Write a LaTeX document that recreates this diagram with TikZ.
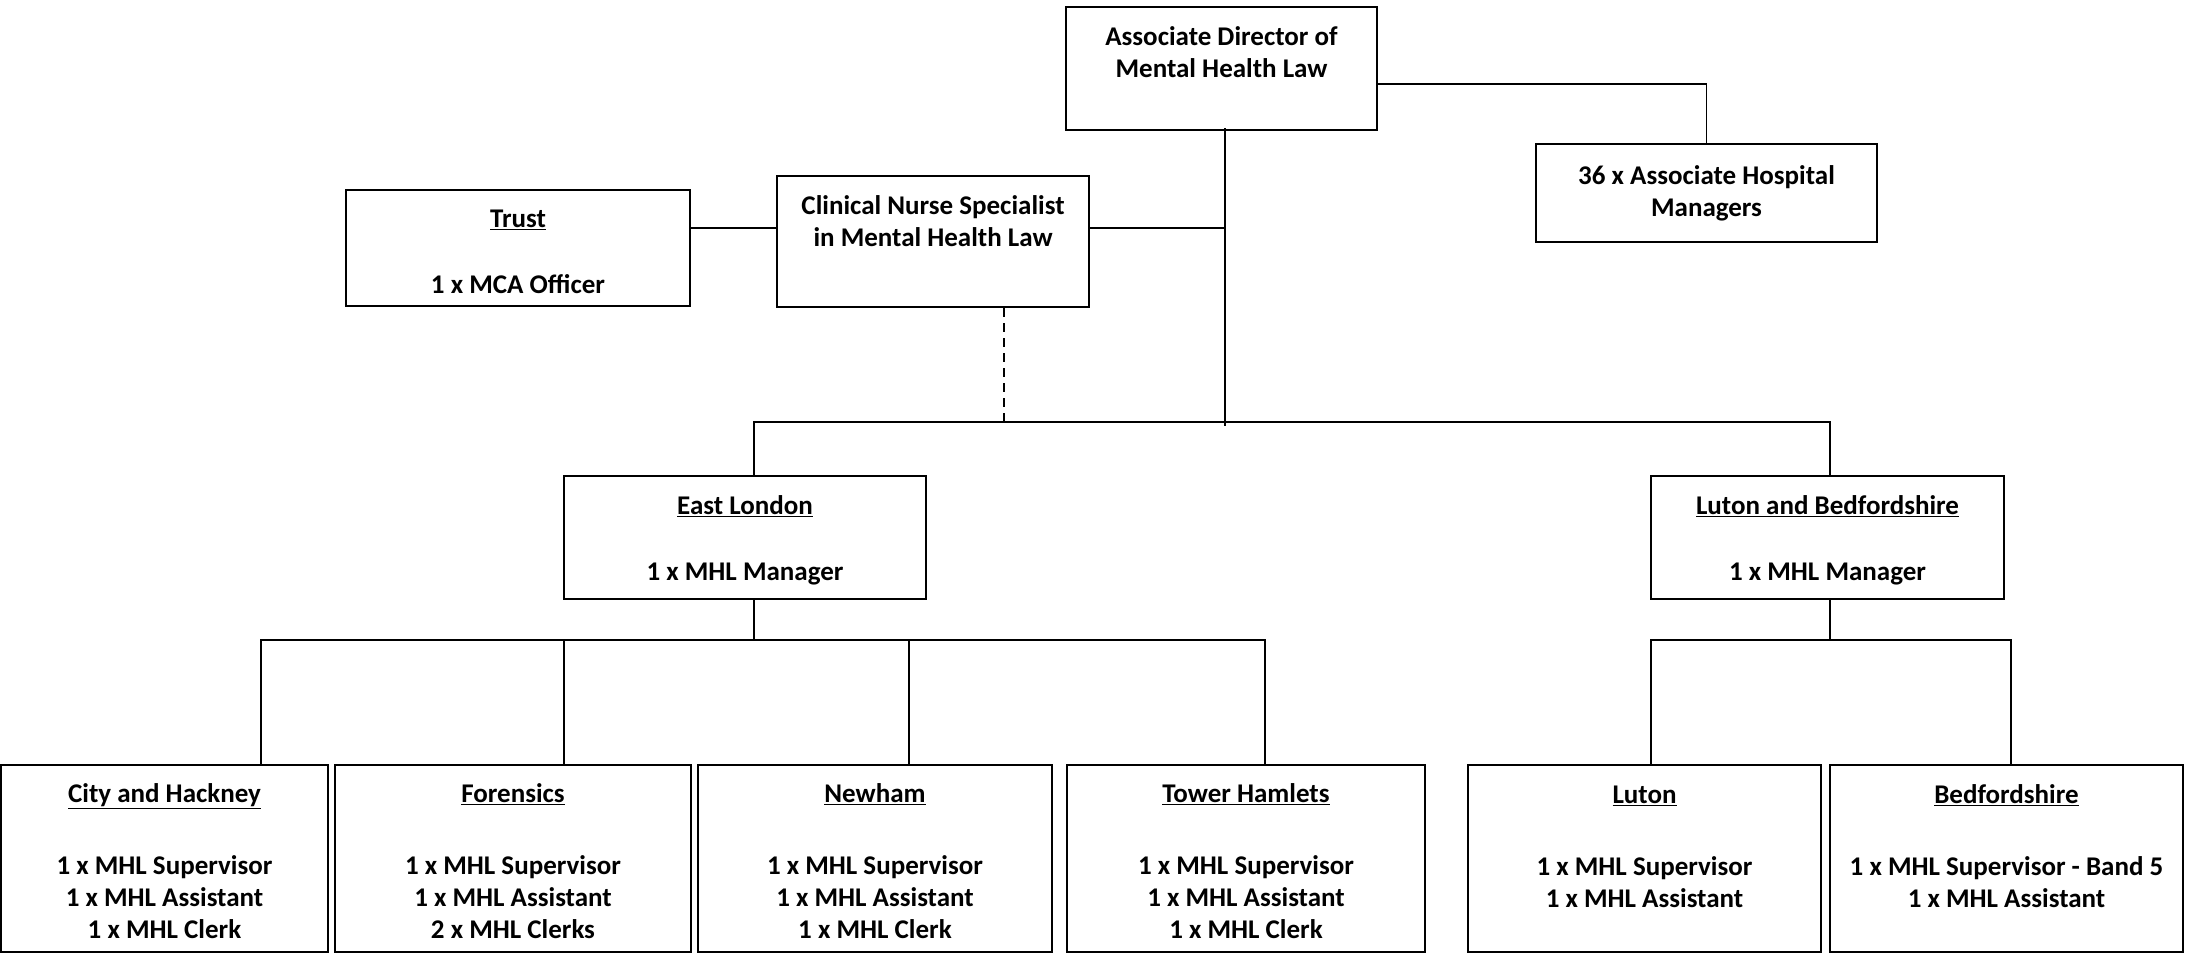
\documentclass[tikz,border=0pt]{standalone}
\usepackage{fontspec}
\setmainfont{Carlito}
\tikzstyle{unit} = [
  draw=black,
  line width=2pt,
  align=center,
  inner sep=0pt,
  font=\fontsize{27}{32}\selectfont\bfseries,
]
\tikzstyle{site} = [unit, minimum width=354pt, minimum height=187pt]
\tikzstyle{link} = [line width=1.6pt]

\begin{document}
\begin{tikzpicture}[x=1pt, y=-1pt]
  \useasboundingbox (0,0) rectangle (2190,954);

  \coordinate (spine) at (1225,422);
  \coordinate (mid) at (1225,228);
  \coordinate (elbus) at (754,640);
  \coordinate (lbbus) at (1830,640);

  % Top
  \node[unit, minimum width=311pt, minimum height=123pt] (director) at (1221.5,68.5)
    {Associate Director of\\Mental Health Law\\ \mbox{}};
  \node[unit, minimum width=341pt, minimum height=98pt] (ahm) at (1706.5,193)
    {36 x Associate Hospital\\Managers};
  \node[unit, minimum width=312pt, minimum height=131pt] (cns) at (933,241.5)
    {Clinical Nurse Specialist\\in Mental Health Law\\[8pt]\mbox{}};
  \node[unit, minimum width=344pt, minimum height=116pt] (trust) at (518,248)
    {\underline{Trust}\\[34pt]1 x MCA Officer\\[-40pt]\mbox{}};

  % Areas
  \node[unit, minimum width=362pt, minimum height=123pt] (east) at (745,537.5)
    {\underline{East London}\\[34pt]1 x MHL Manager\\[-34pt]\mbox{}};
  \node[unit, minimum width=353pt, minimum height=123pt] (lbed) at (1827.5,537.5)
    {\underline{Luton and Bedfordshire}\\[34pt]1 x MHL Manager\\[-34pt]\mbox{}};

  % Sites
  \node[site, minimum width=327pt] (city) at (164.5,858.5)
    {\underline{City and Hackney}\\[40pt]1 x MHL Supervisor\\1 x MHL Assistant\\1 x MHL Clerk\\[-38pt]\mbox{}};
  \node[site, minimum width=356pt] (forensics) at (513,858.5)
    {\underline{Forensics}\\[40pt]1 x MHL Supervisor\\1 x MHL Assistant\\2 x MHL Clerks\\[-38pt]\mbox{}};
  \node[site] (newham) at (875,858.5)
    {\underline{Newham}\\[40pt]1 x MHL Supervisor\\1 x MHL Assistant\\1 x MHL Clerk\\[-38pt]\mbox{}};
  \node[site, minimum width=358pt] (tower) at (1246,858.5)
    {\underline{Tower Hamlets}\\[40pt]1 x MHL Supervisor\\1 x MHL Assistant\\1 x MHL Clerk\\[-38pt]\mbox{}};
  \node[site, minimum width=353pt] (luton) at (1644.5,858.5)
    {\underline{Luton}\\[40pt]1 x MHL Supervisor\\1 x MHL Assistant\\[-8pt]\mbox{}};
  \node[site, minimum width=353pt] (bedford) at (2006.5,858.5)
    {\underline{Bedfordshire}\\[40pt]1 x MHL Supervisor - Band 5\\1 x MHL Assistant\\[-8pt]\mbox{}};

  % Links
  \draw[link] ([yshift=-15.5pt]director.east) -| (ahm.north);
  \draw[link] ([yshift=3pt]director.south -| spine) -- ([yshift=-4pt]spine);
  \draw[link] (trust.east |- mid) -- (cns.west |- mid);
  \draw[link] (cns.east |- mid) -- (mid);
  \draw[link, dash pattern=on 9pt off 6pt] ([xshift=71pt]cns.south) -- ([xshift=71pt]cns.south |- spine);
  \draw[link] ([xshift=9pt]east.north) |- (spine);
  \draw[link] ([xshift=2.5pt]lbed.north) |- (spine);

  \draw[link] (east.south -| elbus) -- (elbus);
  \draw[link] ([xshift=96.5pt]city.north) |- (elbus);
  \draw[link] ([xshift=51pt]forensics.north) |- (elbus);
  \draw[link] ([xshift=34pt]newham.north) |- (elbus);
  \draw[link] ([xshift=19pt]tower.north) |- (elbus);

  \draw[link] (lbed.south -| lbbus) -- (lbbus);
  \draw[link] ([xshift=6.5pt]luton.north) |- (lbbus);
  \draw[link] ([xshift=4.5pt]bedford.north) |- (lbbus);
\end{tikzpicture}
\end{document}
